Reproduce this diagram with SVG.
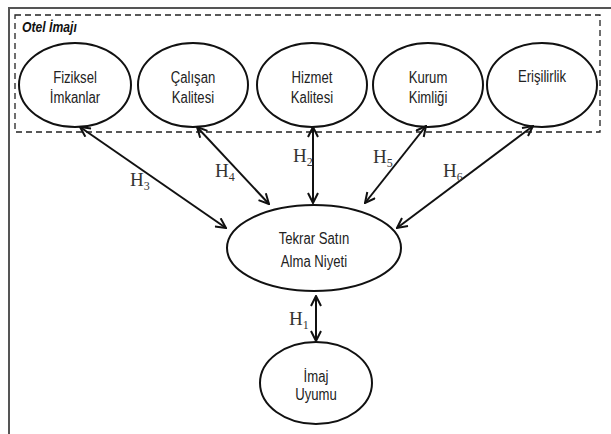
<svg xmlns="http://www.w3.org/2000/svg" width="611" height="434" viewBox="0 0 611 434">
<style>
.frame{fill:none;stroke:#555;stroke-width:2}
.dash{fill:none;stroke:#222;stroke-width:1.3;stroke-dasharray:6 4}
.node ellipse{fill:#fff;stroke:#111;stroke-width:2}
.lbl{font-family:"Liberation Sans",Arial,sans-serif;font-size:16px;fill:#222;text-anchor:middle}
.title{font-family:"Liberation Sans",Arial,sans-serif;font-size:14px;font-weight:bold;font-style:italic;fill:#111}
.conn line{stroke:#111;stroke-width:2;marker-start:url(#ah);marker-end:url(#ah)}
.h{font-family:"Liberation Serif","Times New Roman",serif;font-size:19px;fill:#333}
.h tspan{font-size:12px}
</style>
<defs>
<marker id="ah" viewBox="0 0 12 12" refX="11" refY="6" markerWidth="12" markerHeight="12" markerUnits="userSpaceOnUse" orient="auto-start-reverse">
<path d="M1,1 L11,6 L1,11" fill="none" stroke="#111" stroke-width="2"/>
</marker>
</defs>
<rect width="611" height="434" fill="#fff"/>
<path class="frame" d="M611,8 H9 V434"/>
<rect class="dash" x="15" y="15" width="585" height="117"/>
<text class="title" transform="translate(22 32) scale(0.87 1)" x="0" y="0">Otel İmajı</text>
<g id="fiziksel" class="node"><ellipse cx="75" cy="85" rx="56" ry="42"/><g transform="translate(75 0) scale(0.82 1)"><text class="lbl" x="0" y="83">Fiziksel</text><text class="lbl" x="0" y="103">İmkanlar</text></g></g>
<g id="calisan" class="node"><ellipse cx="193" cy="85" rx="55" ry="42"/><g transform="translate(193 0) scale(0.82 1)"><text class="lbl" x="0" y="83">Çalışan</text><text class="lbl" x="0" y="103">Kalitesi</text></g></g>
<g id="hizmet" class="node"><ellipse cx="312" cy="85" rx="55" ry="42"/><g transform="translate(312 0) scale(0.82 1)"><text class="lbl" x="0" y="83">Hizmet</text><text class="lbl" x="0" y="103">Kalitesi</text></g></g>
<g id="kurum" class="node"><ellipse cx="428" cy="85" rx="55" ry="42"/><g transform="translate(428 0) scale(0.82 1)"><text class="lbl" x="0" y="83">Kurum</text><text class="lbl" x="0" y="103">Kimliği</text></g></g>
<g id="erisilirlik" class="node"><ellipse cx="542" cy="85" rx="55" ry="42"/><g transform="translate(542 0) scale(0.82 1)"><text class="lbl" x="0" y="82">Erişilirlik</text></g></g>
<g id="tekrar" class="node"><ellipse cx="314" cy="248" rx="87" ry="43"/><g transform="translate(314 0) scale(0.82 1)"><text class="lbl" x="0" y="244">Tekrar Satın</text><text class="lbl" x="0" y="267">Alma Niyeti</text></g></g>
<g id="imaj" class="node"><ellipse cx="316" cy="383" rx="56" ry="41"/><g transform="translate(316 0) scale(0.82 1)"><text class="lbl" x="0" y="382">İmaj</text><text class="lbl" x="0" y="400">Uyumu</text></g></g>
<g id="connectors" class="conn">
<line x1="80" y1="127" x2="226" y2="228"/>
<line x1="197" y1="127" x2="269" y2="204"/>
<line x1="313" y1="127" x2="313" y2="203"/>
<line x1="426" y1="126" x2="365" y2="203"/>
<line x1="533" y1="126" x2="397" y2="228"/>
<line x1="316" y1="296" x2="316" y2="341"/>
</g>
<g id="labels">
<text class="h" x="130" y="186">H<tspan dy="4">3</tspan></text>
<text class="h" x="215" y="177">H<tspan dy="4">4</tspan></text>
<text class="h" x="293" y="162">H<tspan dy="4">2</tspan></text>
<text class="h" x="373" y="163">H<tspan dy="4">5</tspan></text>
<text class="h" x="443" y="177">H<tspan dy="4">6</tspan></text>
<text class="h" x="289" y="325">H<tspan dy="4">1</tspan></text>
</g>
</svg>
